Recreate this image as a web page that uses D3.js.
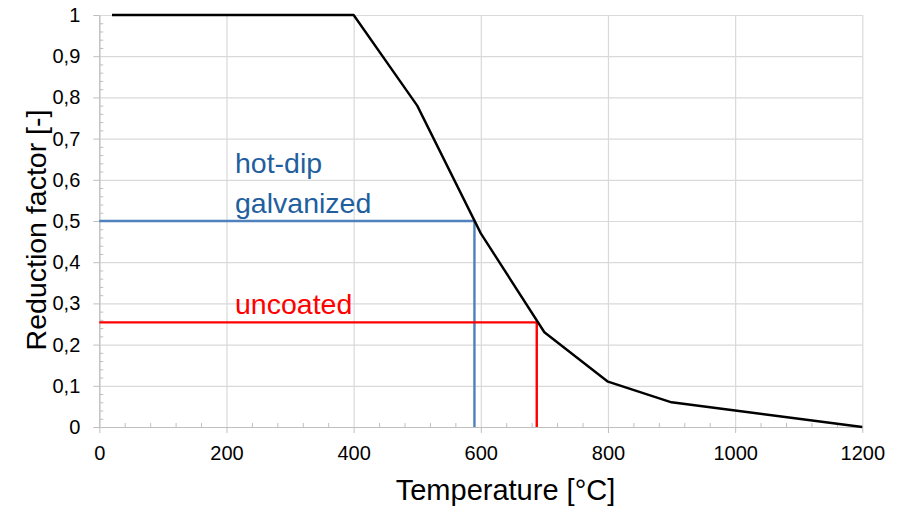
<!DOCTYPE html>
<html>
<head>
<meta charset="utf-8">
<script src="https://cdn.jsdelivr.net/npm/d3@7"></script>
<style>
  html, body { margin: 0; padding: 0; background: #fff; }
  svg { display: block; font-family: "Liberation Sans", Arial, sans-serif; }
</style>
</head>
<body>
<svg id="chart" width="901" height="506"></svg>
<script>
// Steel strength reduction factor vs. temperature
const temperatures = [20, 100, 200, 300, 400, 500, 600, 700, 800, 900, 1000, 1100, 1200];
const reductionFactors = [1, 1, 1, 1, 1, 0.78, 0.47, 0.23, 0.11, 0.06, 0.04, 0.02, 0];

// Critical temperatures for the two surface conditions
const coatingNames = ["hot-dip galvanized", "uncoated"];
const criticalTemps = [590, 688];
const criticalFactors = [0.5, 0.254];

// Axis ticks
const xTickValues = [0, 200, 400, 600, 800, 1000, 1200];
const yTickValues = [0, 0.1, 0.2, 0.3, 0.4, 0.5, 0.6, 0.7, 0.8, 0.9, 1];

const plotLeft = 99.3, plotRight = 862.3, plotTop = 15, plotBottom = 427;

const svg = d3.select("#chart");
const x = d3.scaleLinear().domain([0, 1200]).range([plotLeft, plotRight]);
const y = d3.scaleLinear().domain([0, 1]).range([plotBottom, plotTop]);

const locale = d3.formatLocale({ decimal: ",", thousands: ".", grouping: [3], currency: ["", "€"] });
const yFmt = v => v === 0 || v === 1 ? String(v) : locale.format(".1f")(v);
const xFmt = v => String(v);

const gridColor = "#d9d9d9";
const axisColor = "#bfbfbf";

// Gridlines
svg.append("g")
  .attr("transform", `translate(0,${plotBottom})`)
  .call(d3.axisBottom(x).tickValues(xTickValues).tickSize(-(plotBottom - plotTop)).tickFormat(""))
  .call(g => g.select(".domain").remove())
  .call(g => g.selectAll("line").attr("stroke", gridColor).attr("stroke-width", 1.2));

svg.append("g")
  .attr("transform", `translate(${plotLeft},0)`)
  .call(d3.axisLeft(y).tickValues(yTickValues).tickSize(-(plotRight - plotLeft)).tickFormat(""))
  .call(g => g.select(".domain").remove())
  .call(g => g.selectAll("line").attr("stroke", gridColor).attr("stroke-width", 1.2));

// Minor ticks (inside the plot)
const xMinor = d3.range(0, 1201, 40).filter(v => v % 200 !== 0);
svg.append("g")
  .attr("transform", `translate(0,${plotBottom})`)
  .call(d3.axisTop(x).tickValues(xMinor).tickSize(4).tickFormat(""))
  .call(g => g.select(".domain").remove())
  .call(g => g.selectAll("line").attr("stroke", axisColor));

const yMinor = d3.range(0, 51).map(i => i / 50).filter((v, i) => i % 5 !== 0);
svg.append("g")
  .attr("transform", `translate(${plotLeft},0)`)
  .call(d3.axisRight(y).tickValues(yMinor).tickSize(4).tickFormat(""))
  .call(g => g.select(".domain").remove())
  .call(g => g.selectAll("line").attr("stroke", axisColor));

// Main axes with labels
svg.append("g")
  .attr("transform", `translate(0,${plotBottom})`)
  .call(d3.axisBottom(x).tickValues(xTickValues).tickFormat(xFmt).tickSizeInner(6).tickSizeOuter(0).tickPadding(13))
  .call(g => g.select(".domain").attr("stroke", axisColor).attr("stroke-width", 1.2))
  .call(g => g.selectAll("line").attr("stroke", axisColor))
  .call(g => g.selectAll("text").attr("font-size", 20).attr("fill", "#000")
    .attr("font-family", "Liberation Sans, Arial, sans-serif"));

svg.append("g")
  .attr("transform", `translate(${plotLeft},0)`)
  .call(d3.axisLeft(y).tickValues(yTickValues).tickFormat(yFmt).tickSizeInner(6).tickSizeOuter(0).tickPadding(13))
  .call(g => g.select(".domain").attr("stroke", axisColor).attr("stroke-width", 1.2))
  .call(g => g.selectAll("line").attr("stroke", axisColor))
  .call(g => g.selectAll("text").attr("font-size", 20).attr("fill", "#000")
    .attr("font-family", "Liberation Sans, Arial, sans-serif"));

// Critical temperature guides
const guideColors = ["#4f81bd", "#ff0000"];
const labelColors = ["#1f5f9e", "#ff0000"];
criticalTemps.forEach((t, i) => {
  const f = criticalFactors[i];
  svg.append("path")
    .attr("d", d3.line()([[x(0), y(f)], [x(t), y(f)], [x(t), y(0)]]))
    .attr("fill", "none")
    .attr("stroke", guideColors[i])
    .attr("stroke-width", 2.4);
});

// Reduction factor curve
const curve = d3.line()
  .x((d, i) => x(temperatures[i]))
  .y(d => y(d));
svg.append("path")
  .attr("d", curve(reductionFactors))
  .attr("fill", "none")
  .attr("stroke", "#000")
  .attr("stroke-width", 2.4)
  .attr("stroke-linejoin", "round");

// Annotations
const labelX = 235;
const galv = svg.append("text")
  .attr("x", labelX).attr("y", 173)
  .attr("font-size", 28.5).attr("fill", labelColors[0]);
galv.append("tspan").attr("x", labelX).attr("y", 173).text("hot-dip");
galv.append("tspan").attr("x", labelX).attr("y", 212.5).text("galvanized");

svg.append("text")
  .attr("x", labelX).attr("y", 314)
  .attr("font-size", 28.5).attr("fill", labelColors[1])
  .text(coatingNames[1]);

// Axis titles
svg.append("text")
  .attr("x", (393 + 618) / 2).attr("y", 499.5)
  .attr("text-anchor", "middle")
  .attr("font-size", 29).attr("fill", "#000")
  .text("Temperature [°C]");

svg.append("text")
  .attr("transform", `translate(46,230) rotate(-90)`)
  .attr("text-anchor", "middle")
  .attr("font-size", 28.5).attr("fill", "#000")
  .text("Reduction factor [-]");
</script>
</body>
</html>
